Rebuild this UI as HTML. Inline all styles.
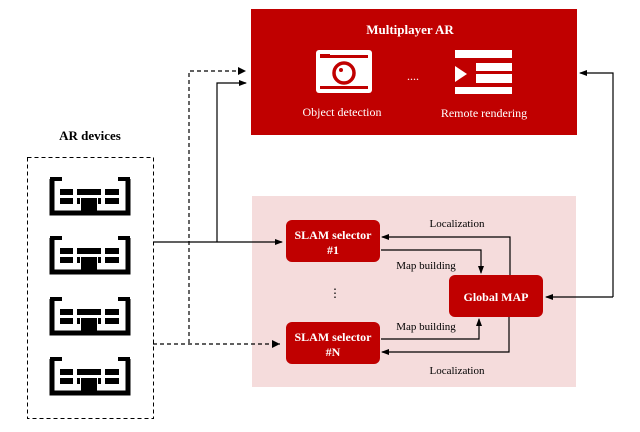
<!DOCTYPE html>
<html><head><style>body{margin:0;background:#fff}svg{display:block}text{font-family:"Liberation Serif",serif}</style></head>
<body>
<svg width="640" height="432" viewBox="0 0 640 432" xmlns="http://www.w3.org/2000/svg">
<defs>
<marker id="a" markerWidth="8" markerHeight="8" refX="7" refY="4" orient="auto" markerUnits="userSpaceOnUse"><path d="M0,1 L8,4 L0,7 z" fill="#000"/></marker>
<g id="dev">
<path d="M0,2 V36 H76 V2" fill="none" stroke="#000" stroke-width="5"/>
<rect x="-2" y="0" width="12" height="4" fill="#000"/><rect x="66" y="0" width="12" height="4" fill="#000"/>
<rect x="8" y="12" width="13" height="6" fill="#000"/><rect x="8" y="21" width="13" height="6" fill="#000"/>
<rect x="25" y="12" width="24" height="6" fill="#000"/><rect x="29" y="21" width="16" height="14" fill="#000"/>
<rect x="53" y="12" width="14" height="6" fill="#000"/><rect x="53" y="21" width="14" height="6" fill="#000"/>
<rect x="25" y="21" width="3" height="6" fill="#000"/><rect x="46" y="21" width="3" height="6" fill="#000"/>
</g>
</defs>
<rect x="251" y="9" width="326" height="126" fill="#c00000"/>
<text x="410" y="34" font-size="13" font-weight="bold" fill="#fff" text-anchor="middle">Multiplayer AR</text>
<rect x="316" y="50" width="56" height="43" rx="3" fill="#fff"/>
<rect x="320" y="55" width="48" height="3" fill="#c00000"/>
<rect x="320" y="54" width="10" height="2" fill="#c00000"/>
<rect x="320" y="86" width="48" height="3" fill="#c00000"/>
<circle cx="344" cy="73" r="10" fill="none" stroke="#c00000" stroke-width="3.5"/>
<circle cx="341" cy="70" r="2" fill="#c00000"/>
<text x="413" y="80" font-size="12" fill="#fff" text-anchor="middle">....</text>
<rect x="455" y="50" width="57" height="8" fill="#fff"/>
<rect x="476" y="63" width="36" height="8" fill="#fff"/>
<rect x="476" y="74" width="36" height="9" fill="#fff"/>
<rect x="455" y="87" width="57" height="7" fill="#fff"/>
<path d="M455,66 L467,74 L455,82 z" fill="#fff"/>
<text x="342" y="116" font-size="12" fill="#fff" text-anchor="middle">Object detection</text>
<text x="484" y="117" font-size="12" fill="#fff" text-anchor="middle">Remote rendering</text>

<rect x="252" y="196" width="324" height="191" fill="#f5dcdc"/>
<rect x="286" y="220" width="94" height="42" rx="6" fill="#c00000"/>
<text x="333" y="239" font-size="12" font-weight="bold" fill="#fff" text-anchor="middle">SLAM selector</text>
<text x="333" y="254" font-size="12" font-weight="bold" fill="#fff" text-anchor="middle">#1</text>
<rect x="286" y="322" width="94" height="42" rx="6" fill="#c00000"/>
<text x="333" y="341" font-size="12" font-weight="bold" fill="#fff" text-anchor="middle">SLAM selector</text>
<text x="333" y="356" font-size="12" font-weight="bold" fill="#fff" text-anchor="middle">#N</text>
<rect x="449" y="275" width="94" height="42" rx="6" fill="#c00000"/>
<text x="496" y="301" font-size="12" font-weight="bold" fill="#fff" text-anchor="middle">Global MAP</text>
<text x="335" y="297" font-size="12" text-anchor="middle">⋮</text>

<text x="457" y="227" font-size="11" text-anchor="middle">Localization</text>
<text x="426" y="269" font-size="11" text-anchor="middle">Map building</text>
<text x="426" y="330" font-size="11" text-anchor="middle">Map building</text>
<text x="457" y="374" font-size="11" text-anchor="middle">Localization</text>

<g fill="none" stroke="#000" stroke-width="1.2">
<path d="M510,275 V237 H382" marker-end="url(#a)"/>
<path d="M381,250 H481 V273" marker-end="url(#a)"/>
<path d="M381,339 H479 V319" marker-end="url(#a)"/>
<path d="M509,317 V352 H382" marker-end="url(#a)"/>
<path d="M153,242 H282" marker-end="url(#a)"/>
<path d="M217,242 V83 H246" marker-end="url(#a)"/>
<path d="M613,297 H546" marker-end="url(#a)"/>
<path d="M613,297 V73 H580" marker-end="url(#a)"/>
<g stroke-dasharray="4,3">
<path d="M153,344 H280"/>
<path d="M189,343 V71 H240"/>
</g>
</g>
<path d="M272,340 L280,344 L272,348z M238,67 L246,71 L238,75z" fill="#000"/>

<rect x="27.5" y="157.5" width="126" height="261" fill="none" stroke="#000" stroke-dasharray="4,3"/>
<text x="90" y="140" font-size="13" font-weight="bold" text-anchor="middle">AR devices</text>
<use href="#dev" x="52" y="177"/>
<use href="#dev" x="52" y="236"/>
<use href="#dev" x="52" y="297"/>
<use href="#dev" x="52" y="357"/>
</svg>
</body></html>
